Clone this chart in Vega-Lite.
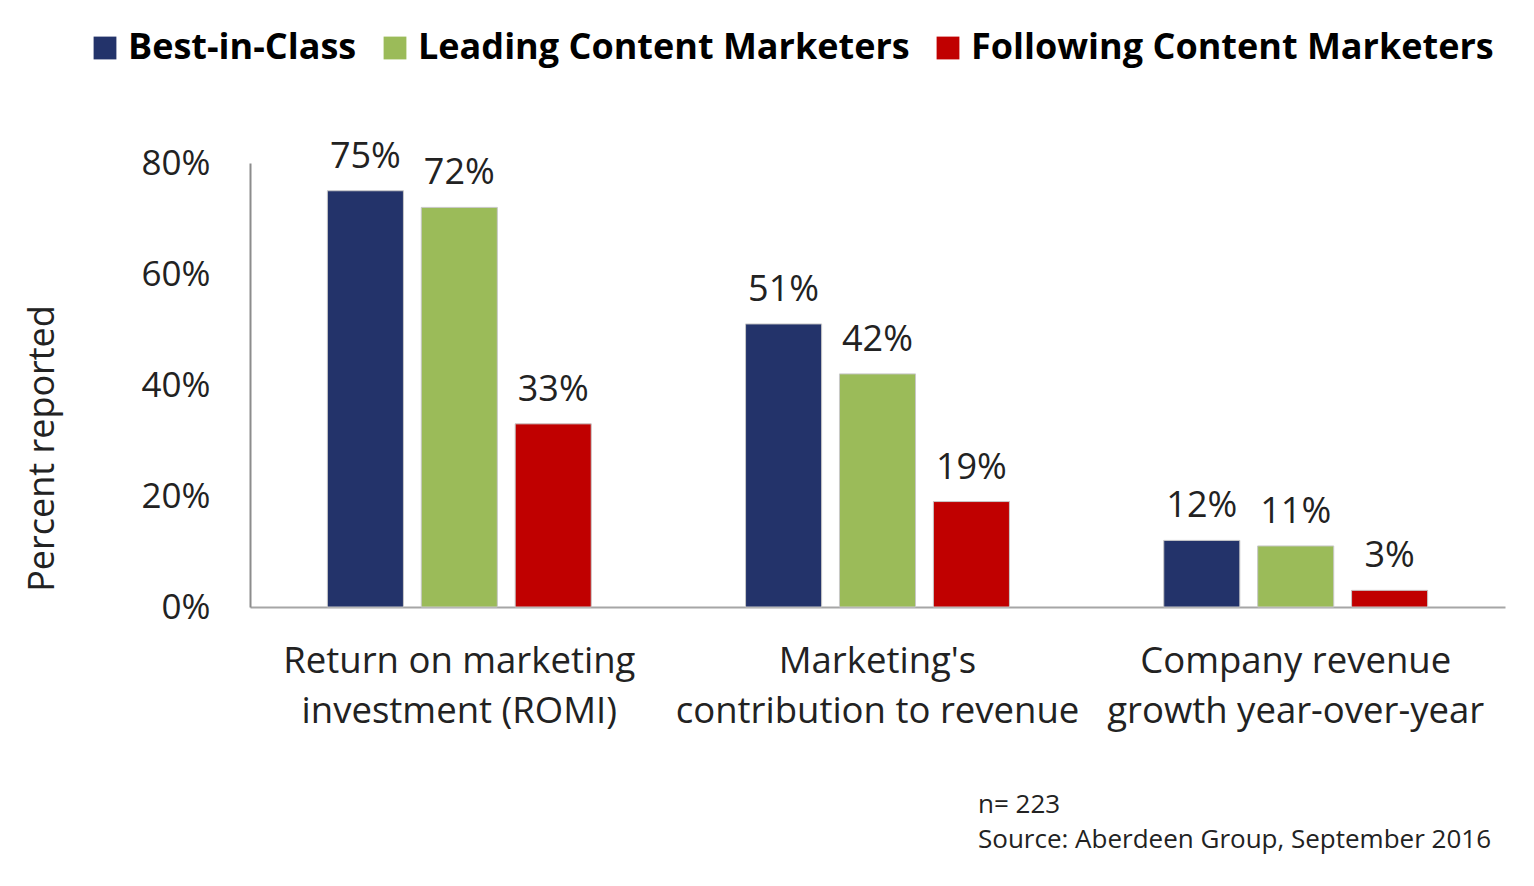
{
  "$schema": "https://vega.github.io/schema/vega-lite/v6.json",
  "width": 1255,
  "height": 444,
  "autosize": {"type": "none"},
  "padding": {"left": 250, "top": 163, "right": 29, "bottom": 279},
  "background": "white",
  "config": {
    "view": {"stroke": null},
    "font": "Open Sans"
  },
  "title": {
    "text": "n= 223",
    "subtitle": "Source: Aberdeen Group, September 2016",
    "orient": "bottom",
    "anchor": "start",
    "frame": "group",
    "dx": 728,
    "offset": 62,
    "font": "Open Sans",
    "fontSize": 26,
    "fontWeight": "normal",
    "color": "#222222",
    "subtitleFont": "Open Sans",
    "subtitleFontSize": 26,
    "subtitleColor": "#222222",
    "subtitlePadding": 9
  },
  "data": {
    "values": [
      {"metric": "Return on marketing|investment (ROMI)", "segment": "Best-in-Class", "value": 0.75},
      {"metric": "Return on marketing|investment (ROMI)", "segment": "Leading Content Marketers", "value": 0.72},
      {"metric": "Return on marketing|investment (ROMI)", "segment": "Following Content Marketers", "value": 0.33},
      {"metric": "Marketing's|contribution to revenue", "segment": "Best-in-Class", "value": 0.51},
      {"metric": "Marketing's|contribution to revenue", "segment": "Leading Content Marketers", "value": 0.42},
      {"metric": "Marketing's|contribution to revenue", "segment": "Following Content Marketers", "value": 0.19},
      {"metric": "Company revenue|growth year-over-year", "segment": "Best-in-Class", "value": 0.12},
      {"metric": "Company revenue|growth year-over-year", "segment": "Leading Content Marketers", "value": 0.11},
      {"metric": "Company revenue|growth year-over-year", "segment": "Following Content Marketers", "value": 0.03}
    ]
  },
  "encoding": {
    "x": {
      "field": "metric",
      "type": "nominal",
      "sort": ["Return on marketing|investment (ROMI)", "Marketing's|contribution to revenue", "Company revenue|growth year-over-year"],
      "scale": {"paddingInner": 0.369, "paddingOuter": 0.185},
      "axis": {
        "title": null,
        "labelAngle": 0,
        "labelExpr": "split(datum.label, '|')",
        "labelFontSize": 36.5,
        "labelLineHeight": 50,
        "labelColor": "#222222",
        "labelPadding": 36,
        "labelLimit": 0,
        "ticks": false,
        "domainColor": "#A6A6A6",
        "domainWidth": 2
      }
    },
    "xOffset": {
      "field": "segment",
      "type": "nominal",
      "sort": ["Best-in-Class", "Leading Content Marketers", "Following Content Marketers"],
      "scale": {"paddingInner": 0.19, "paddingOuter": 0}
    },
    "y": {
      "field": "value",
      "type": "quantitative",
      "scale": {"domain": [0, 0.8], "nice": false},
      "axis": {
        "title": "Percent  reported",
        "titleFontSize": 36,
        "titleFontWeight": "normal",
        "titleColor": "#222222",
        "titleX": -208,
        "titleY": 285,
        "titleAngle": -90,
        "titleAlign": "center",
        "titleBaseline": "middle",
        "values": [0, 0.2, 0.4, 0.6, 0.8],
        "format": ".0%",
        "labelFontSize": 35,
        "labelColor": "#222222",
        "labelPadding": 40,
        "ticks": false,
        "grid": false,
        "domainColor": "#8C8C8C",
        "domainWidth": 2
      }
    }
  },
  "layer": [
    {
      "mark": {"type": "bar", "stroke": "#C8C8C8", "strokeWidth": 1},
      "encoding": {
        "color": {
          "field": "segment",
          "type": "nominal",
          "sort": ["Best-in-Class", "Leading Content Marketers", "Following Content Marketers"],
          "scale": {
            "domain": ["Best-in-Class", "Leading Content Marketers", "Following Content Marketers"],
            "range": ["#23336A", "#9BBB59", "#C00000"]
          },
          "legend": {
            "title": null,
            "orient": "none",
            "direction": "horizontal",
            "legendX": -163,
            "legendY": -133,
            "padding": 0,
            "symbolType": "square",
            "symbolSize": 520,
            "symbolStrokeWidth": 0,
            "labelFontSize": 36,
            "labelFontWeight": "bold",
            "labelColor": "#000000",
            "labelOffset": 5,
            "labelLimit": 0,
            "columnPadding": 20
          }
        }
      }
    },
    {
      "mark": {"type": "text", "baseline": "alphabetic", "dy": -23, "fontSize": 36, "color": "#222222"},
      "encoding": {
        "text": {"field": "value", "type": "quantitative", "format": ".0%"}
      }
    }
  ]
}
